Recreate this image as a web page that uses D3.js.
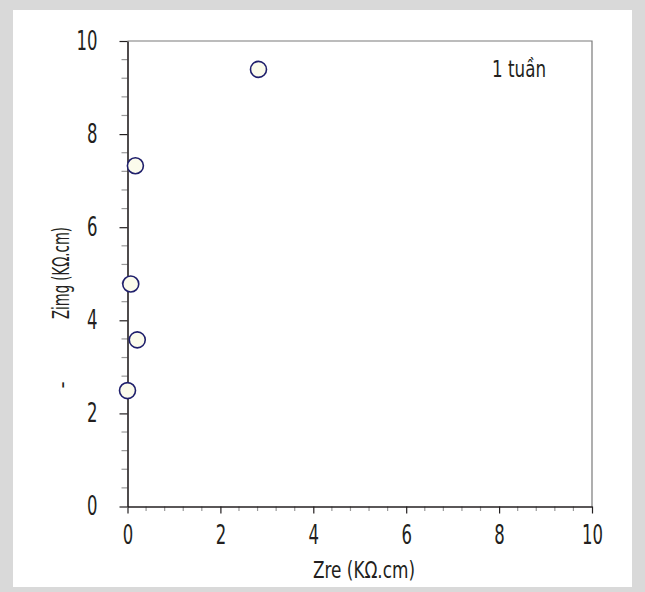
<!DOCTYPE html>
<html>
<head>
<meta charset="utf-8">
<script src="https://cdn.jsdelivr.net/npm/d3@7"></script>
<style>
  html, body { margin: 0; padding: 0; background: #d9d9d9; }
  svg { display: block; }
  text { font-family: "Liberation Sans Narrow", "DejaVu Sans Condensed", "Liberation Sans", sans-serif; fill: #231f20; }
</style>
</head>
<body>
<svg id="chart" width="645" height="592"></svg>
<script>
// Impedance points after one week (Zre vs -Zimg, kΩ.cm)
const zre  = [2.82, 0.17, 0.07, 0.21, 0.0];
const zimg = [9.39, 7.32, 4.78, 3.58, 2.49];
const majorTicks = [0, 2, 4, 6, 8, 10];
const tickLabels = ["0", "2", "4", "6", "8", "10"];
const xTitle = "Zre (KΩ.cm)";
const yTitle = "Zimg (KΩ.cm)";
const seriesLabel = "1 tuần";

const svg = d3.select("#chart");

// white panel inside the grey frame
svg.append("rect").attr("x", 13).attr("y", 10).attr("width", 619).attr("height", 577).attr("fill", "#ffffff");

const x = d3.scaleLinear().domain([0, 10]).range([127.5, 592]);
const y = d3.scaleLinear().domain([0, 10]).range([506.5, 41]);

const minor = d3.range(0, 10.001, 0.4).filter(v => Math.abs(v / 2 - Math.round(v / 2)) > 1e-6);

// narrow the glyphs to a condensed look while keeping their height
const condense = (sel, perChar) => sel
  .attr("textLength", function () { return this.textContent.length * perChar; })
  .attr("lengthAdjust", "spacingAndGlyphs");

// top and right border of plot area
svg.append("path")
  .attr("d", `M${x(0)},${y(10)}H${x(10)}V${y(0)}`)
  .attr("fill", "none").attr("stroke", "#7a7a7a").attr("stroke-width", 1.2);

// minor ticks
svg.append("g").selectAll("line").data(minor).join("line")
  .attr("x1", d => x(d)).attr("x2", d => x(d))
  .attr("y1", y(0)).attr("y2", y(0) + 4.5)
  .attr("stroke", "#999").attr("stroke-width", 1.2);
svg.append("g").selectAll("line").data(minor).join("line")
  .attr("y1", d => y(d)).attr("y2", d => y(d))
  .attr("x1", x(0)).attr("x2", x(0) - 6)
  .attr("stroke", "#999").attr("stroke-width", 1.2);

// x axis
const xAxis = d3.axisBottom(x).tickValues(majorTicks).tickFormat((d, i) => tickLabels[i])
  .tickSizeInner(7).tickSizeOuter(0).tickPadding(12);
const gx = svg.append("g").attr("transform", `translate(0,${y(0)})`).call(xAxis);
gx.select(".domain").attr("stroke", "#231f20").attr("stroke-width", 1.6);
gx.selectAll(".tick line").attr("stroke", "#231f20").attr("stroke-width", 1.2);
gx.selectAll(".tick text").attr("font-size", 26).attr("fill", "#231f20")
  .style("font-family", "'Liberation Sans Narrow', 'DejaVu Sans Condensed', sans-serif")
  .call(condense, 10.5);

// y axis
const yAxis = d3.axisLeft(y).tickValues(majorTicks).tickFormat((d, i) => tickLabels[i])
  .tickSizeInner(8).tickSizeOuter(0).tickPadding(22);
const gy = svg.append("g").attr("transform", `translate(${x(0)},0)`).call(yAxis);
gy.select(".domain").attr("stroke", "#231f20").attr("stroke-width", 1.6);
gy.selectAll(".tick line").attr("stroke", "#231f20").attr("stroke-width", 1.2);
gy.selectAll(".tick text").attr("font-size", 26).attr("fill", "#231f20")
  .style("font-family", "'Liberation Sans Narrow', 'DejaVu Sans Condensed', sans-serif")
  .call(condense, 10.5);

// axis titles
svg.append("text").attr("x", 364).attr("y", 578).attr("text-anchor", "middle")
  .attr("font-size", 23).attr("textLength", 102).attr("lengthAdjust", "spacingAndGlyphs").text(xTitle);
svg.append("text").attr("transform", "translate(69,273) rotate(-90)").attr("text-anchor", "middle")
  .attr("font-size", 23).attr("textLength", 92).attr("lengthAdjust", "spacingAndGlyphs").text(yTitle);
svg.append("text").attr("transform", "translate(69,385) rotate(-90)").attr("text-anchor", "middle")
  .attr("font-size", 22).text("-");

// series label
svg.append("text").attr("x", 492).attr("y", 77).attr("font-size", 23)
  .attr("textLength", 54).attr("lengthAdjust", "spacingAndGlyphs").text(seriesLabel);

// points
svg.append("g").selectAll("circle").data(zre.map((v, i) => [v, zimg[i]])).join("circle")
  .attr("cx", d => x(d[0])).attr("cy", d => y(d[1])).attr("r", 8)
  .attr("fill", "#fbfbec").attr("stroke", "#1f1f6b").attr("stroke-width", 1.6);
</script>
</body>
</html>
